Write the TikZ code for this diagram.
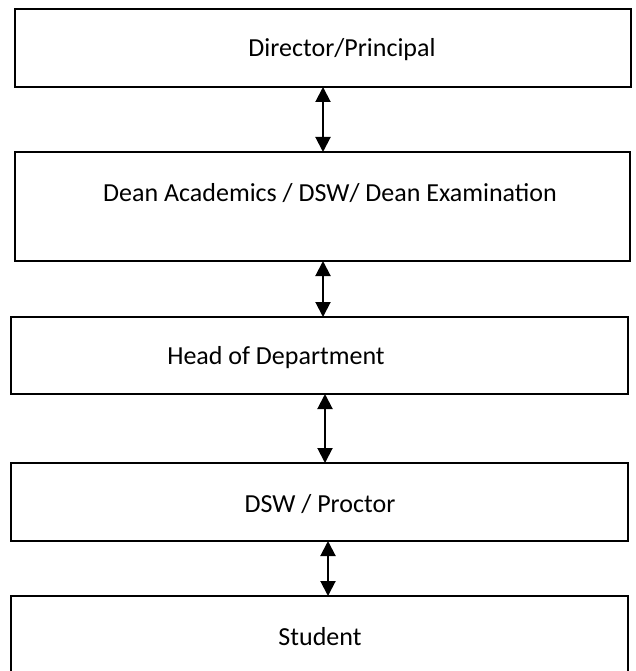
\documentclass[tikz,border=0pt]{standalone}
\usepackage{fontspec}
\setmainfont{Carlito}
\usetikzlibrary{arrows.meta}
\begin{document}
\begin{tikzpicture}[x=1pt,y=-1pt,
  boxline/.style={draw=black,line width=2pt},
  lbl/.style={inner sep=0pt,anchor=base,font=\fontsize{26}{31}\selectfont},
  dblarrow/.style={line width=2pt,{Triangle[length=15pt,width=15pt]}-{Triangle[length=15pt,width=15pt]}}]
\useasboundingbox (0,0) rectangle (636,671);
\clip (0,0) rectangle (636,671);
% boxes
\draw[boxline] (15,9) rectangle (631,87);
\draw[boxline] (15,152) rectangle (630,261);
\draw[boxline] (11,317) rectangle (628,394);
\draw[boxline] (11,463) rectangle (628,541);
\draw[boxline] (11,596) rectangle (628,690);
% labels
\node[lbl] (t1) at (342,57) {Director/Principal};
\node[lbl] (t2) at (330,201) {Dean Academics / DSW/ Dean Examination};
\node[lbl] (t3) at (276,364) {Head of Department};
\node[lbl] (t4) at (320,512) {DSW / Proctor};
\node[lbl] (t5) at (320,645) {Student};
% connector anchors
\coordinate (a1) at (323,87);
\coordinate (b1) at (323,152);
\coordinate (a2) at (323,261);
\coordinate (b2) at (323,317);
\coordinate (a3) at (325,394);
\coordinate (b3) at (325,463);
\coordinate (a4) at (328,541);
\coordinate (b4) at (328,596);
\draw[dblarrow] (a1) -- (b1);
\draw[dblarrow] (a2) -- (b2);
\draw[dblarrow] (a3) -- (b3);
\draw[dblarrow] (a4) -- (b4);
\end{tikzpicture}
\end{document}
